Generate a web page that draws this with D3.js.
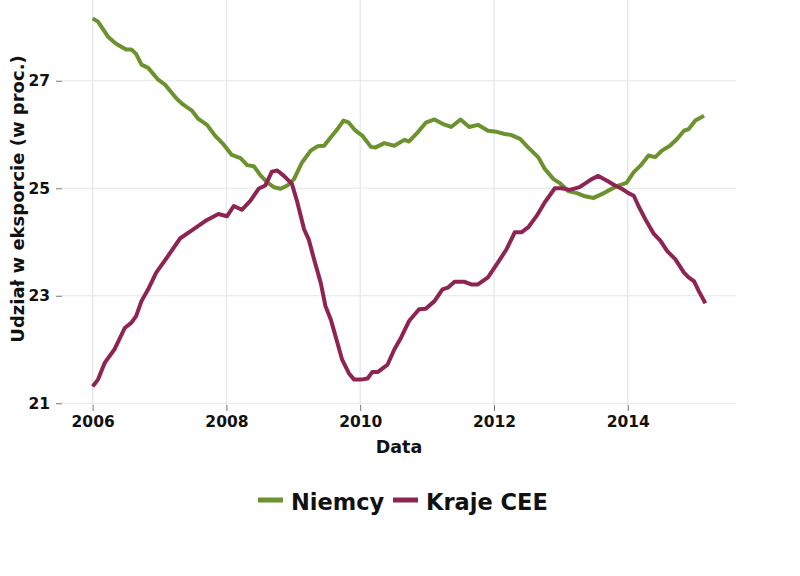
<!DOCTYPE html>
<html>
<head>
<meta charset="utf-8">
<script src="https://cdn.jsdelivr.net/npm/d3@7"></script>
<style>
  body { margin: 0; background: #fff; }
  svg text { font-family: 'DejaVu Sans', sans-serif; font-weight: 700; fill: #111; }
</style>
</head>
<body>
<svg id="chart" width="800" height="576"></svg>
<script>
const seriesNames = ['Niemcy', 'Kraje CEE'];
const seriesColors = ['#6b922d', '#8e2452'];

const yearTicks = [2006, 2008, 2010, 2012, 2014];
const valueTicks = [21, 23, 25, 27];

// [rok (ułamek), udział w proc.]
const niemcy = [
  [2006.00, 28.16], [2006.08, 28.10], [2006.23, 27.82], [2006.35, 27.69], [2006.50, 27.58],
  [2006.58, 27.58], [2006.65, 27.50], [2006.73, 27.30], [2006.83, 27.24], [2006.98, 27.02],
  [2007.08, 26.93], [2007.26, 26.66], [2007.36, 26.55], [2007.48, 26.45], [2007.58, 26.29],
  [2007.71, 26.18], [2007.83, 25.98], [2007.96, 25.81], [2008.08, 25.62], [2008.21, 25.56],
  [2008.31, 25.43], [2008.41, 25.41], [2008.51, 25.24], [2008.61, 25.11], [2008.71, 25.02],
  [2008.81, 24.99], [2008.91, 25.05], [2009.01, 25.17], [2009.13, 25.48], [2009.26, 25.70],
  [2009.36, 25.78], [2009.46, 25.79], [2009.56, 25.95], [2009.66, 26.10], [2009.75, 26.26],
  [2009.83, 26.22], [2009.93, 26.07], [2010.03, 25.98], [2010.16, 25.77], [2010.23, 25.76],
  [2010.36, 25.84], [2010.51, 25.79], [2010.66, 25.90], [2010.73, 25.87], [2010.86, 26.04],
  [2010.98, 26.22], [2011.11, 26.28], [2011.23, 26.20], [2011.36, 26.14], [2011.50, 26.28],
  [2011.63, 26.14], [2011.76, 26.18], [2011.91, 26.07], [2012.04, 26.05], [2012.16, 26.01],
  [2012.26, 25.99], [2012.39, 25.92], [2012.51, 25.76], [2012.66, 25.58], [2012.76, 25.36],
  [2012.89, 25.17], [2012.99, 25.09], [2013.11, 24.95], [2013.24, 24.91], [2013.36, 24.85],
  [2013.49, 24.82], [2013.61, 24.89], [2013.73, 24.97], [2013.86, 25.05], [2013.98, 25.10],
  [2014.09, 25.30], [2014.19, 25.42], [2014.31, 25.61], [2014.41, 25.58], [2014.51, 25.70],
  [2014.63, 25.79], [2014.74, 25.92], [2014.84, 26.07], [2014.91, 26.10], [2015.01, 26.26],
  [2015.14, 26.35],
];

const krajeCEE = [
  [2006.00, 21.31], [2006.08, 21.44], [2006.18, 21.75], [2006.33, 22.01], [2006.48, 22.40],
  [2006.58, 22.50], [2006.65, 22.62], [2006.73, 22.90], [2006.83, 23.12], [2006.95, 23.43],
  [2007.11, 23.71], [2007.31, 24.07], [2007.51, 24.24], [2007.71, 24.41], [2007.88, 24.52],
  [2008.01, 24.48], [2008.11, 24.67], [2008.23, 24.60], [2008.36, 24.77], [2008.48, 24.99],
  [2008.58, 25.05], [2008.68, 25.31], [2008.76, 25.33], [2008.86, 25.23], [2008.98, 25.08],
  [2009.06, 24.74], [2009.16, 24.24], [2009.23, 24.05], [2009.31, 23.68], [2009.41, 23.24],
  [2009.48, 22.81], [2009.56, 22.56], [2009.66, 22.12], [2009.73, 21.81], [2009.83, 21.56],
  [2009.91, 21.44], [2010.01, 21.44], [2010.11, 21.46], [2010.18, 21.58], [2010.26, 21.58],
  [2010.41, 21.72], [2010.51, 22.00], [2010.61, 22.22], [2010.73, 22.53], [2010.88, 22.75],
  [2010.98, 22.76], [2011.11, 22.90], [2011.23, 23.12], [2011.31, 23.15], [2011.41, 23.26],
  [2011.56, 23.26], [2011.66, 23.21], [2011.76, 23.21], [2011.91, 23.34], [2012.06, 23.62],
  [2012.19, 23.87], [2012.31, 24.18], [2012.41, 24.18], [2012.51, 24.27], [2012.64, 24.49],
  [2012.76, 24.74], [2012.91, 25.00], [2013.01, 25.00], [2013.13, 24.97], [2013.28, 25.02],
  [2013.46, 25.17], [2013.56, 25.23], [2013.69, 25.14], [2013.81, 25.05], [2013.91, 24.99],
  [2014.01, 24.91], [2014.09, 24.86], [2014.16, 24.67], [2014.26, 24.43], [2014.39, 24.15],
  [2014.49, 24.02], [2014.59, 23.83], [2014.71, 23.68], [2014.84, 23.43], [2014.91, 23.34],
  [2014.99, 23.27], [2015.06, 23.09], [2015.16, 22.86],
];

const series = [niemcy, krajeCEE];

const panel = { left: 62, right: 736, top: 0, bottom: 405 };

// rozszerzenie osi o 5% jak w ggplot
const expand = (ext) => {
  const pad = (ext[1] - ext[0]) * 0.05;
  return [ext[0] - pad, ext[1] + pad];
};

const allPoints = niemcy.concat(krajeCEE);
const x = d3.scaleLinear()
  .domain(expand(d3.extent(allPoints, (d) => d[0])))
  .range([panel.left, panel.right]);
const y = d3.scaleLinear()
  .domain(expand(d3.extent(allPoints, (d) => d[1])))
  .range([panel.bottom, panel.top]);

const svg = d3.select('#chart');

// siatka
const grid = svg.append('g');
grid.selectAll('line.h')
  .data(valueTicks)
  .enter()
  .append('line')
  .attr('x1', panel.left)
  .attr('x2', panel.right)
  .attr('y1', (d) => y(d))
  .attr('y2', (d) => y(d))
  .attr('stroke', '#e3e6ea')
  .attr('stroke-width', 1.2);
grid.selectAll('line.v')
  .data(yearTicks)
  .enter()
  .append('line')
  .attr('x1', (d) => x(d))
  .attr('x2', (d) => x(d))
  .attr('y1', panel.top)
  .attr('y2', panel.bottom)
  .attr('stroke', '#e3e6ea')
  .attr('stroke-width', 1.2);

// osie
const xAxis = svg.append('g')
  .attr('transform', `translate(0, ${panel.bottom})`)
  .call(d3.axisBottom(x).tickValues(yearTicks).tickFormat(d3.format('d')).tickSize(6).tickPadding(5));
const yAxis = svg.append('g')
  .attr('transform', `translate(${panel.left}, 0)`)
  .call(d3.axisLeft(y).tickValues(valueTicks).tickSize(6).tickPadding(6));

[xAxis, yAxis].forEach((axis) => {
  axis.select('.domain').remove();
  axis.selectAll('.tick line').attr('stroke', '#777').attr('stroke-width', 1);
  axis.selectAll('.tick text')
    .attr('fill', '#111')
    .style('font-family', "'DejaVu Sans', sans-serif")
    .style('font-weight', 700)
    .style('font-size', '15.5px');
});

// linie
const line = d3.line()
  .x((d) => x(d[0]))
  .y((d) => y(d[1]));

svg.append('g')
  .selectAll('path')
  .data(series)
  .enter()
  .append('path')
  .attr('d', line)
  .attr('fill', 'none')
  .attr('stroke', (d, i) => seriesColors[i])
  .attr('stroke-width', 4)
  .attr('stroke-linejoin', 'round');

// tytuły osi
svg.append('text')
  .text('Data')
  .attr('x', (panel.left + panel.right) / 2)
  .attr('y', 453)
  .attr('text-anchor', 'middle')
  .style('font-size', '17.5px');

svg.append('text')
  .text('Udział w eksporcie (w proc.)')
  .attr('transform', `translate(24, 199) rotate(-90)`)
  .attr('text-anchor', 'middle')
  .style('font-size', '18px');

// legenda
const legendItems = [
  { x: 258, name: seriesNames[0], color: seriesColors[0] },
  { x: 393, name: seriesNames[1], color: seriesColors[1] },
];
const legend = svg.append('g');
legend.selectAll('line')
  .data(legendItems)
  .enter()
  .append('line')
  .attr('x1', (d) => d.x)
  .attr('x2', (d) => d.x + 25)
  .attr('y1', 500)
  .attr('y2', 500)
  .attr('stroke', (d) => d.color)
  .attr('stroke-width', 5);
legend.selectAll('text')
  .data(legendItems)
  .enter()
  .append('text')
  .text((d) => d.name)
  .attr('x', (d) => d.x + 33)
  .attr('y', 510)
  .style('font-size', '22.5px');
</script>
</body>
</html>
